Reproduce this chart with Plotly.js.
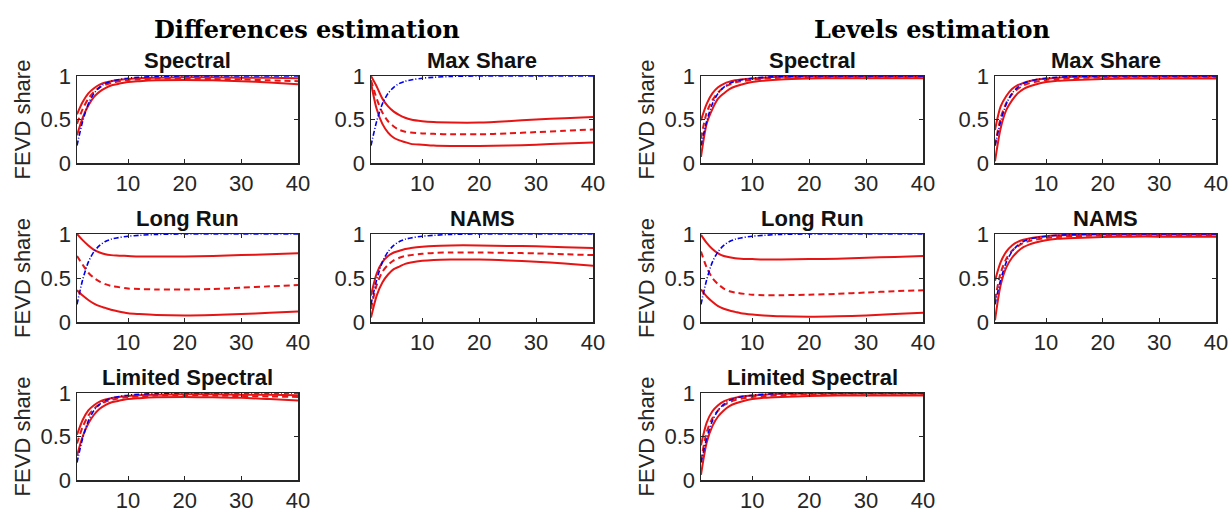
<!DOCTYPE html>
<html>
<head>
<meta charset="utf-8">
<script src="https://cdn.plot.ly/plotly-3.0.1.min.js"></script>
<style>
  html, body { margin: 0; padding: 0; background: #fff; }
  #chart { width: 1231px; height: 512px; }
</style>
</head>
<body>
<div id="chart"></div>
<script>
var horizons = [1, 2, 3, 4, 5, 6, 7, 8, 10, 12, 15, 20, 25, 30, 35, 40];

// true FEVD share (blue dash-dot)
var trueShare = [0.2, 0.48, 0.68, 0.8, 0.87, 0.915, 0.94, 0.955, 0.975, 0.985, 0.995, 1, 1, 1, 1, 1];

// Differences estimation
var diffSpectralUpper  = [0.56, 0.7, 0.8, 0.86, 0.9, 0.925, 0.94, 0.95, 0.965, 0.975, 0.98, 0.985, 0.985, 0.98, 0.98, 0.975];
var diffSpectralMedian = [0.45, 0.62, 0.74, 0.82, 0.87, 0.9, 0.92, 0.935, 0.955, 0.96, 0.97, 0.97, 0.965, 0.96, 0.95, 0.94];
var diffSpectralLower  = [0.32, 0.52, 0.66, 0.76, 0.82, 0.86, 0.89, 0.905, 0.93, 0.94, 0.95, 0.955, 0.95, 0.94, 0.925, 0.905];

var diffMaxShareUpper  = [1.0, 0.88, 0.74, 0.65, 0.59, 0.55, 0.52, 0.5, 0.48, 0.47, 0.465, 0.465, 0.48, 0.5, 0.515, 0.53];
var diffMaxShareMedian = [0.95, 0.74, 0.58, 0.48, 0.42, 0.38, 0.36, 0.35, 0.34, 0.335, 0.33, 0.33, 0.34, 0.355, 0.37, 0.385];
var diffMaxShareLower  = [0.92, 0.62, 0.45, 0.35, 0.29, 0.26, 0.24, 0.22, 0.21, 0.2, 0.195, 0.195, 0.2, 0.21, 0.225, 0.235];

var diffLongRunUpper  = [1.0, 0.93, 0.87, 0.82, 0.79, 0.77, 0.76, 0.755, 0.75, 0.745, 0.745, 0.745, 0.75, 0.76, 0.77, 0.78];
var diffLongRunMedian = [0.75, 0.65, 0.56, 0.5, 0.46, 0.43, 0.41, 0.4, 0.38, 0.375, 0.37, 0.37, 0.375, 0.39, 0.405, 0.42];
var diffLongRunLower  = [0.36, 0.3, 0.25, 0.21, 0.18, 0.16, 0.14, 0.125, 0.1, 0.09, 0.08, 0.075, 0.08, 0.09, 0.105, 0.12];

var diffNamsUpper  = [0.3, 0.55, 0.68, 0.75, 0.79, 0.81, 0.83, 0.84, 0.855, 0.865, 0.87, 0.87, 0.865, 0.86, 0.85, 0.84];
var diffNamsMedian = [0.15, 0.42, 0.57, 0.65, 0.7, 0.73, 0.75, 0.76, 0.775, 0.785, 0.79, 0.79, 0.785, 0.78, 0.77, 0.76];
var diffNamsLower  = [0.05, 0.3, 0.45, 0.54, 0.6, 0.63, 0.66, 0.675, 0.695, 0.705, 0.71, 0.71, 0.7, 0.685, 0.665, 0.64];

var diffLimitedUpper  = [0.52, 0.69, 0.8, 0.86, 0.9, 0.925, 0.94, 0.95, 0.965, 0.975, 0.98, 0.985, 0.985, 0.98, 0.98, 0.975];
var diffLimitedMedian = [0.42, 0.61, 0.74, 0.82, 0.87, 0.9, 0.92, 0.935, 0.955, 0.96, 0.97, 0.975, 0.97, 0.965, 0.96, 0.955];
var diffLimitedLower  = [0.28, 0.5, 0.65, 0.75, 0.82, 0.86, 0.89, 0.905, 0.93, 0.94, 0.95, 0.955, 0.95, 0.945, 0.93, 0.915];

// Levels estimation
var levSpectralUpper  = [0.49, 0.68, 0.8, 0.87, 0.91, 0.935, 0.95, 0.96, 0.97, 0.98, 0.99, 0.995, 0.995, 0.995, 0.995, 0.995];
var levSpectralMedian = [0.28, 0.58, 0.72, 0.81, 0.87, 0.9, 0.925, 0.94, 0.955, 0.97, 0.98, 0.985, 0.99, 0.99, 0.99, 0.99];
var levSpectralLower  = [0.07, 0.45, 0.62, 0.74, 0.8, 0.85, 0.88, 0.9, 0.93, 0.945, 0.96, 0.97, 0.975, 0.975, 0.975, 0.975];

var levMaxShareUpper  = [0.38, 0.65, 0.77, 0.85, 0.895, 0.92, 0.94, 0.955, 0.97, 0.98, 0.99, 0.995, 0.995, 0.995, 0.995, 0.995];
var levMaxShareMedian = [0.2, 0.52, 0.69, 0.79, 0.85, 0.89, 0.915, 0.93, 0.955, 0.965, 0.975, 0.985, 0.99, 0.99, 0.99, 0.99];
var levMaxShareLower  = [0.02, 0.4, 0.61, 0.72, 0.8, 0.85, 0.88, 0.9, 0.93, 0.945, 0.955, 0.965, 0.97, 0.97, 0.97, 0.97];

var levLongRunUpper  = [0.99, 0.9, 0.83, 0.78, 0.75, 0.735, 0.725, 0.72, 0.715, 0.71, 0.71, 0.715, 0.72, 0.73, 0.74, 0.75];
var levLongRunMedian = [0.8, 0.62, 0.5, 0.43, 0.38, 0.35, 0.335, 0.325, 0.31, 0.305, 0.305, 0.31, 0.32, 0.335, 0.35, 0.36];
var levLongRunLower  = [0.37, 0.29, 0.23, 0.18, 0.15, 0.13, 0.115, 0.1, 0.085, 0.075, 0.065, 0.06, 0.065, 0.075, 0.09, 0.105];

var levNamsUpper  = [0.47, 0.68, 0.8, 0.87, 0.91, 0.935, 0.95, 0.96, 0.975, 0.985, 0.99, 0.995, 0.995, 0.995, 0.995, 0.995];
var levNamsMedian = [0.25, 0.56, 0.72, 0.81, 0.86, 0.9, 0.92, 0.935, 0.955, 0.965, 0.975, 0.985, 0.99, 0.99, 0.99, 0.99];
var levNamsLower  = [0.02, 0.42, 0.62, 0.73, 0.8, 0.85, 0.88, 0.9, 0.93, 0.945, 0.955, 0.965, 0.97, 0.97, 0.97, 0.97];

var levLimitedUpper  = [0.4, 0.66, 0.79, 0.86, 0.905, 0.93, 0.945, 0.96, 0.97, 0.98, 0.99, 0.995, 0.995, 0.995, 0.995, 0.995];
var levLimitedMedian = [0.22, 0.55, 0.71, 0.8, 0.86, 0.895, 0.92, 0.935, 0.955, 0.965, 0.975, 0.985, 0.99, 0.99, 0.99, 0.99];
var levLimitedLower  = [0.06, 0.43, 0.62, 0.73, 0.8, 0.85, 0.88, 0.9, 0.93, 0.945, 0.955, 0.965, 0.97, 0.97, 0.97, 0.97];

var panelTitles = ['Spectral', 'Max Share', 'Long Run', 'NAMS', 'Limited Spectral',
                   'Spectral', 'Max Share', 'Long Run', 'NAMS', 'Limited Spectral'];
var groupTitles = ['Differences estimation', 'Levels estimation'];
var yLabel = 'FEVD share';
var xTicks = [10, 20, 30, 40];
var yTicks = [0, 0.5, 1];

var panels = [
    [diffSpectralUpper, diffSpectralMedian, diffSpectralLower],
    [diffMaxShareUpper, diffMaxShareMedian, diffMaxShareLower],
    [diffLongRunUpper, diffLongRunMedian, diffLongRunLower],
    [diffNamsUpper, diffNamsMedian, diffNamsLower],
    [diffLimitedUpper, diffLimitedMedian, diffLimitedLower],
    [levSpectralUpper, levSpectralMedian, levSpectralLower],
    [levMaxShareUpper, levMaxShareMedian, levMaxShareLower],
    [levLongRunUpper, levLongRunMedian, levLongRunLower],
    [levNamsUpper, levNamsMedian, levNamsLower],
    [levLimitedUpper, levLimitedMedian, levLimitedLower]
];

// pixel boxes (left, right) and (top, bottom)
var W = 1231, H = 512;
var colPx = [[77, 298], [371, 593], [701, 923], [995, 1216]];
var rowPx = [[76, 163], [234, 322], [393, 480]];
// panel -> [col, row]
var slots = [[0, 0], [1, 0], [0, 1], [1, 1], [0, 2],
             [2, 0], [3, 0], [2, 1], [3, 1], [2, 2]];

var ink = '#262626';
var red = 'rgb(230,20,20)';
var blue = 'rgb(0,0,235)';

var data = [];
var layout = {
    width: W,
    height: H,
    margin: { l: 0, r: 0, t: 0, b: 0 },
    paper_bgcolor: '#fff',
    plot_bgcolor: '#fff',
    showlegend: false,
    font: { family: 'Arial, Liberation Sans, sans-serif', color: ink, size: 22 },
    annotations: []
};

for (var i = 0; i < panels.length; i++) {
    var n = i + 1;
    var xa = n == 1 ? 'x' : 'x' + n;
    var ya = n == 1 ? 'y' : 'y' + n;
    var styles = [
        { color: red, width: 2, dash: 'solid' },
        { color: red, width: 2, dash: '6px,4px' },
        { color: red, width: 2, dash: 'solid' }
    ];
    for (var k = 0; k < 3; k++) {
        data.push({
            x: horizons, y: panels[i][k], xaxis: xa, yaxis: ya,
            type: 'scatter', mode: 'lines',
            line: { color: styles[k].color, width: styles[k].width, dash: styles[k].dash, shape: 'spline', smoothing: 0.8 },
            hoverinfo: 'skip'
        });
    }
    data.push({
        x: horizons, y: trueShare, xaxis: xa, yaxis: ya,
        type: 'scatter', mode: 'lines',
        line: { color: blue, width: 1.6, dash: '5px,2px,1px,2px', shape: 'spline', smoothing: 0.8 },
        hoverinfo: 'skip'
    });

    var c = colPx[slots[i][0]], r = rowPx[slots[i][1]];
    var xdom = [c[0] / W, c[1] / W];
    var ydom = [1 - r[1] / H, 1 - r[0] / H];
    var axKey = n == 1 ? '' : n;
    layout['xaxis' + axKey] = {
        domain: xdom, anchor: ya, range: [1, 40],
        tickvals: xTicks, ticks: 'inside', ticklen: 4, tickwidth: 1, tickcolor: ink,
        showline: true, linecolor: ink, linewidth: 1.5, mirror: 'ticks',
        showgrid: false, zeroline: false, fixedrange: true,
        tickfont: { size: 22, color: ink }
    };
    var yax = {
        domain: ydom, anchor: xa, range: [0, 1],
        tickvals: yTicks, ticks: 'inside', ticklen: 4, tickwidth: 1, tickcolor: ink,
        showline: true, linecolor: ink, linewidth: 1.5, mirror: 'ticks',
        showgrid: false, zeroline: false, fixedrange: true,
        tickfont: { size: 22, color: ink }
    };
    if (slots[i][0] == 0 || slots[i][0] == 2) {
        yax.title = { text: yLabel, font: { size: 22, color: ink }, standoff: 4 };
    }
    layout['yaxis' + axKey] = yax;

    layout.annotations.push({
        text: '<b>' + panelTitles[i] + '</b>',
        xref: 'paper', yref: 'paper',
        x: (xdom[0] + xdom[1]) / 2, y: ydom[1],
        xanchor: 'center', yanchor: 'bottom', yshift: 1,
        showarrow: false,
        font: { size: 22, color: '#111' }
    });
}

// group headers
var headerX = [307, 932];
for (var g = 0; g < groupTitles.length; g++) {
    layout.annotations.push({
        text: '<b>' + groupTitles[g] + '</b>',
        xref: 'paper', yref: 'paper',
        x: headerX[g] / W, y: 1 - 29 / H,
        xanchor: 'center', yanchor: 'middle',
        showarrow: false,
        font: { family: 'DejaVu Serif, serif', size: 24, color: '#000' }
    });
}

Plotly.newPlot('chart', data, layout, { staticPlot: true });
</script>
</body>
</html>
